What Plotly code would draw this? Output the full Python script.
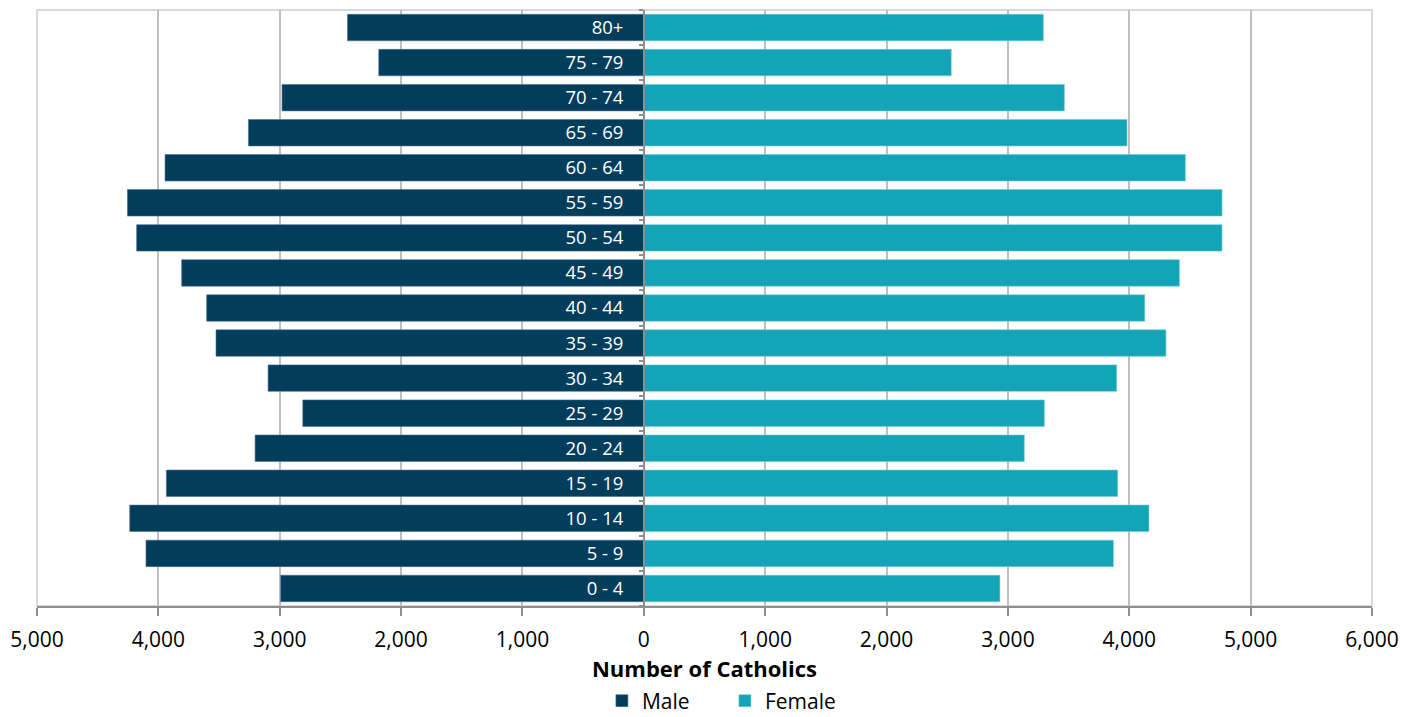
import plotly.graph_objects as go

age_groups = ["0 - 4", "5 - 9", "10 - 14", "15 - 19", "20 - 24", "25 - 29", "30 - 34",
              "35 - 39", "40 - 44", "45 - 49", "50 - 54", "55 - 59", "60 - 64",
              "65 - 69", "70 - 74", "75 - 79", "80+"]
male = [2992, 4102, 4236, 3934, 3203, 2810, 3096, 3525, 3602, 3808, 4179, 4255,
        3945, 3258, 2981, 2184, 2442]
female = [2934, 3869, 4162, 3904, 3135, 3300, 3896, 4302, 4127, 4413, 4764, 4764,
          4462, 3981, 3465, 2533, 3292]
tick_vals = [-5000, -4000, -3000, -2000, -1000, 0, 1000, 2000, 3000, 4000, 5000, 6000]
tick_text = ["5,000", "4,000", "3,000", "2,000", "1,000", "0", "1,000", "2,000",
             "3,000", "4,000", "5,000", "6,000"]

MALE_C = "#023D5C"
FEMALE_C = "#14A4B7"
FONT = "Open Sans"

fig = go.Figure()
fig.add_trace(go.Bar(
    y=age_groups, x=[-v for v in male], orientation="h", name="Male",
    marker=dict(color=MALE_C, line=dict(color="#4a7390", width=0.6)),
    customdata=male, hovertemplate="%{y}: %{customdata:,}<extra>Male</extra>"))
fig.add_trace(go.Bar(
    y=age_groups, x=female, orientation="h", name="Female",
    marker=dict(color=FEMALE_C, line=dict(color="#6cc9d4", width=0.6)),
    hovertemplate="%{y}: %{x:,}<extra>Female</extra>"))

fig.update_layout(
    width=1419, height=717,
    margin=dict(l=37, r=47, t=10, b=111, autoexpand=False),
    barmode="overlay", bargap=0.245,
    plot_bgcolor="white", paper_bgcolor="white",
    font=dict(family=FONT, color="#000000"),
    showlegend=True,
    legend=dict(orientation="h", x=0.5153, xanchor="center", y=-95 / 596, yanchor="middle",
                font=dict(size=21, family=FONT, color="#000000"),
                itemwidth=30, traceorder="normal", tracegroupgap=0,
                entrywidth=78, entrywidthmode="pixels"),
    xaxis=dict(range=[-5000, 6000], tickvals=tick_vals, ticktext=tick_text,
               showgrid=True, gridcolor="#bfbfbf", gridwidth=1.5,
               zeroline=False, showline=True, linecolor="#8f8f8f", linewidth=1.5,
               ticks="outside", ticklen=8, tickcolor="#8f8f8f", tickwidth=1.5,
               ticklabelstandoff=6, automargin=False,
               tickfont=dict(size=21, family=FONT, color="#000000"),
               title=dict(text="<b>Number of Catholics</b>", standoff=6,
                          font=dict(size=22, family=FONT, color="#000000")),
               fixedrange=True),
    yaxis=dict(categoryorder="array", categoryarray=age_groups, type="category",
               anchor="free", position=5 / 11, side="left", automargin=False,
               showline=True, linecolor="#8f8f8f", linewidth=1.5,
               ticks="outside", ticklen=4, tickcolor="#8f8f8f", tickwidth=1.5,
               tickson="boundaries", ticklabelstandoff=16,
               showgrid=False, zeroline=False,
               tickfont=dict(size=18.5, family=FONT, color="#ffffff"),
               range=[-0.5, len(age_groups) - 0.5], fixedrange=True),
    shapes=[dict(type="rect", xref="paper", yref="paper", x0=0, x1=1, y0=0, y1=1,
                 line=dict(color="#d9d9d9", width=2), layer="below")],
)

fig.write_html("out.html")
